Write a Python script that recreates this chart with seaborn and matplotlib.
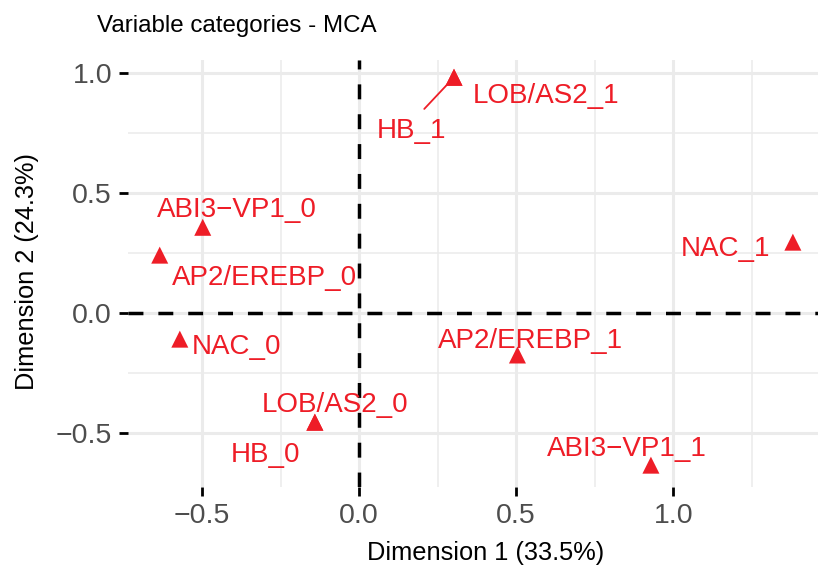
import numpy as np
import pandas as pd
import matplotlib
matplotlib.use('Agg')
import matplotlib.pyplot as plt
import seaborn as sns
from matplotlib.ticker import MultipleLocator

# MCA variable categories (coordinates)
categories = ['HB_1', 'LOB/AS2_1', 'ABI3\u2212VP1_0', 'AP2/EREBP_0', 'NAC_0',
              'LOB/AS2_0', 'HB_0', 'AP2/EREBP_1', 'ABI3\u2212VP1_1', 'NAC_1']
dim1 = [0.302, 0.302, -0.498, -0.635, -0.571, -0.141, -0.141, 0.504, 0.929, 1.381]
dim2 = [0.983, 0.983, 0.358, 0.242, -0.108, -0.454, -0.454, -0.174, -0.633, 0.296]

# label offsets from the point, in pixels (x right, y up), baseline-anchored
label_dx = [-42, 92, 34, 105, 57, 20, -49, 13, -24, -67]
label_dy = [-61, -26, 10, -30, -15, 10, -40, 7, 9, -14]

x_ticks = [-0.5, 0.0, 0.5, 1.0]
y_ticks = [-0.5, 0.0, 0.5, 1.0]

RED = '#EE1D27'

df = pd.DataFrame({'category': categories, 'dim1': dim1, 'dim2': dim2})

sns.set_theme(style='whitegrid')
plt.rcParams['font.family'] = ['Liberation Sans', 'DejaVu Sans']

fig = plt.figure(figsize=(8.18, 5.78), dpi=100)
ax = fig.add_axes([128 / 818, 1 - 487 / 578, 1 - 128 / 818, (487 - 60) / 578])
ax.set_facecolor('white')

ax.set_xlim(-0.736, 1.461)
ax.set_ylim(-0.724, 1.055)

# grid
ax.xaxis.set_major_locator(MultipleLocator(0.5))
ax.yaxis.set_major_locator(MultipleLocator(0.5))
ax.xaxis.set_minor_locator(MultipleLocator(0.25))
ax.yaxis.set_minor_locator(MultipleLocator(0.25))
ax.grid(which='major', color='#EBEBEB', linewidth=2.2)
ax.grid(which='minor', color='#EBEBEB', linewidth=1.1)
ax.set_axisbelow(True)
for s in ax.spines.values():
    s.set_visible(False)

# zero lines
ax.axhline(0, color='black', linewidth=2.5, linestyle=(0, (4.3, 4.3)), zorder=1)
ax.axvline(0, color='black', linewidth=2.5, linestyle=(0, (4.3, 4.3)), zorder=1)

sns.scatterplot(data=df, x='dim1', y='dim2', marker='^', s=150, color=RED,
                edgecolor='none', ax=ax, zorder=3, legend=False)

for i, lab in enumerate(categories):
    if lab == 'HB_1':
        ax.annotate(lab, (dim1[i], dim2[i]), xytext=(label_dx[i], label_dy[i]),
                    textcoords='offset pixels', ha='center', va='baseline',
                    fontsize=20, color=RED,
                    arrowprops=dict(arrowstyle='-', color=RED, lw=1.3,
                                    relpos=(0.55, 1.0), shrinkA=6, shrinkB=4))
    else:
        ax.annotate(lab, (dim1[i], dim2[i]), xytext=(label_dx[i], label_dy[i]),
                    textcoords='offset pixels', ha='center', va='baseline',
                    fontsize=20, color=RED)

ax.set_xticks(x_ticks)
ax.set_yticks(y_ticks)
ax.set_xticklabels([f'{v:.1f}'.replace('-', '\u2212') for v in x_ticks])
ax.set_yticklabels([f'{v:.1f}'.replace('-', '\u2212') for v in y_ticks])
ax.tick_params(which='major', length=6.5, width=2, color='black',
               labelsize=20.5, labelcolor='#4D4D4D', pad=5,
               bottom=True, left=True)
ax.tick_params(which='minor', length=0)

ax.set_xlabel('Dimension 1 (33.5%)', fontsize=18.3, color='black')
ax.set_ylabel('Dimension 2 (24.3%)', fontsize=18.3, color='black')
ax.xaxis.set_label_coords((486 - 128) / 690, -(553 - 487) / 427)
ax.yaxis.set_label_coords(-(128 - 27) / 690, (487 - 272) / 427)
ax.xaxis.label.set_va('center')
ax.yaxis.label.set_va('center')

fig.text(97 / 818, 1 - 32 / 578, 'Variable categories - MCA', fontsize=17.4,
         color='black', ha='left', va='baseline')

plt.savefig('out.png', dpi=100)
plt.close()
